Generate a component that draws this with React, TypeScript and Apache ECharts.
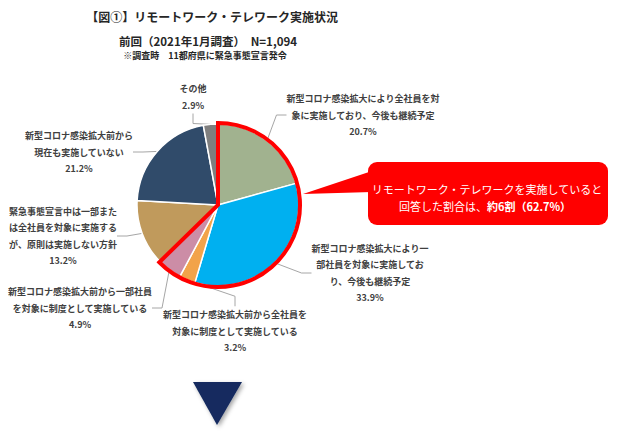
import React, { useEffect, useRef } from "react";
import * as echarts from "echarts";

const categories = [
  "新型コロナ感染拡大により全社員を対\n象に実施しており、今後も継続予定",
  "新型コロナ感染拡大により一\n部社員を対象に実施してお\nり、今後も継続予定",
  "新型コロナ感染拡大前から全社員を\n対象に制度として実施している",
  "新型コロナ感染拡大前から一部社員\nを対象に制度として実施している",
  "緊急事態宣言中は一部また\nは全社員を対象に実施する\nが、原則は実施しない方針",
  "新型コロナ感染拡大前から\n現在も実施していない",
  "その他",
];
const values = [20.7, 33.9, 3.2, 4.9, 13.2, 21.2, 2.9];
const colors = ["#A1B28F", "#00B0F0", "#F2A34A", "#CC8DA6", "#C09A5C", "#304B6A", "#7F7F7F"];
const labelPos: [number, number][] = [
  [363, 115],
  [370, 273],
  [235, 331],
  [80, 308],
  [63, 236],
  [79, 152],
  [193, 97],
];
const implementedCount = 4;

const FONT = "'Noto Sans CJK JP', 'Noto Sans', sans-serif";

export default function App() {
  const ref = useRef<HTMLDivElement>(null);
  useEffect(() => {
    if (!ref.current) return;
    const chart = echarts.init(ref.current, null, { renderer: "svg" });
    const implemented = values.slice(0, implementedCount).reduce((a, b) => a + b, 0);
    const implementedStr = implemented.toFixed(1);
    const center = [218, 205];
    chart.setOption({
      animation: false,
      backgroundColor: "#FFFFFF",
      series: [
        {
          type: "pie",
          center,
          radius: 81,
          startAngle: 90,
          clockwise: true,
          silent: true,
          itemStyle: { borderColor: "#FFFFFF", borderWidth: 1.5 },
          label: {
            show: true,
            fontFamily: FONT,
            fontSize: 9,
            fontWeight: "bold",
            color: "#404040",
            lineHeight: 16.5,
            align: "center",
            overflow: "none",
            formatter: (p: any) => `${p.name}\n${Number(p.value).toFixed(1)}%`,
          },
          labelLine: { show: true, length: 10, length2: 10, lineStyle: { color: "#A6A6A6", width: 1 } },
          labelLayout: (params: any) => {
            const pos = labelPos[params.dataIndex];
            return { x: pos[0], y: pos[1], align: "center", verticalAlign: "middle" };
          },
          data: categories.map((name, i) => ({ name, value: values[i], itemStyle: { color: colors[i] } })),
          z: 2,
        },
        {
          type: "pie",
          center,
          radius: 82,
          startAngle: 90,
          clockwise: true,
          silent: true,
          label: { show: false },
          labelLine: { show: false },
          data: [
            {
              name: "implemented",
              value: implemented,
              itemStyle: { color: "rgba(0,0,0,0)", borderColor: "#FF0000", borderWidth: 4, borderJoin: "miter" },
            },
            {
              name: "rest",
              value: 100 - implemented,
              itemStyle: { color: "rgba(0,0,0,0)", borderWidth: 0 },
            },
          ],
          z: 3,
        },
      ],
      graphic: [
        {
          type: "text",
          x: 212,
          y: 16,
          style: {
            text: "【図①】リモートワーク・テレワーク実施状況",
            fontFamily: FONT,
            fontSize: 12,
            fontWeight: "bold",
            fill: "#262626",
            align: "center",
            verticalAlign: "middle",
          },
        },
        {
          type: "text",
          x: 208,
          y: 41,
          style: {
            text: "前回（2021年1月調査）　N=1,094",
            fontFamily: FONT,
            fontSize: 11.5,
            fontWeight: "bold",
            fill: "#262626",
            align: "center",
            verticalAlign: "middle",
          },
        },
        {
          type: "text",
          x: 205,
          y: 55,
          style: {
            text: "※調査時　11都府県に緊急事態宣言発令",
            fontFamily: FONT,
            fontSize: 9,
            fontWeight: "bold",
            fill: "#262626",
            align: "center",
            verticalAlign: "middle",
          },
        },
        {
          type: "polygon",
          shape: { points: [[303, 194], [372, 171], [372, 192]] },
          style: { fill: "#FF0000" },
          z: 10,
        },
        {
          type: "rect",
          shape: { x: 368, y: 162, width: 240, height: 63, r: 9 },
          style: { fill: "#FF0000" },
          z: 10,
        },
        {
          type: "text",
          x: 487,
          y: 189,
          z: 11,
          style: {
            text: "リモートワーク・テレワークを実施していると",
            fontFamily: FONT,
            fontSize: 11,
            fill: "#FFFFFF",
            align: "center",
            verticalAlign: "middle",
          },
        },
        {
          type: "text",
          x: 485,
          y: 206,
          z: 11,
          style: {
            text: `{n|回答した割合は、}{b|約6割（${implementedStr}%）}`,
            fontFamily: FONT,
            fontSize: 11,
            fill: "#FFFFFF",
            align: "center",
            verticalAlign: "middle",
            rich: {
              n: { fontFamily: FONT, fontSize: 11, fill: "#FFFFFF", color: "#FFFFFF" },
              b: { fontFamily: FONT, fontSize: 11, fontWeight: "bold", fill: "#FFFFFF", color: "#FFFFFF" },
            },
          },
        },
        {
          type: "polygon",
          shape: { points: [[193, 382], [242, 382], [217, 425]] },
          style: {
            fill: "#132A5E",
            shadowBlur: 4,
            shadowOffsetX: 2,
            shadowOffsetY: 2,
            shadowColor: "rgba(0,0,0,0.35)",
          },
        },
      ],
    });
    return () => chart.dispose();
  }, []);
  return (
    <div
      ref={ref}
      style={{ position: "fixed", left: 0, top: 0, width: 617, height: 443, background: "#FFFFFF" }}
    />
  );
}
